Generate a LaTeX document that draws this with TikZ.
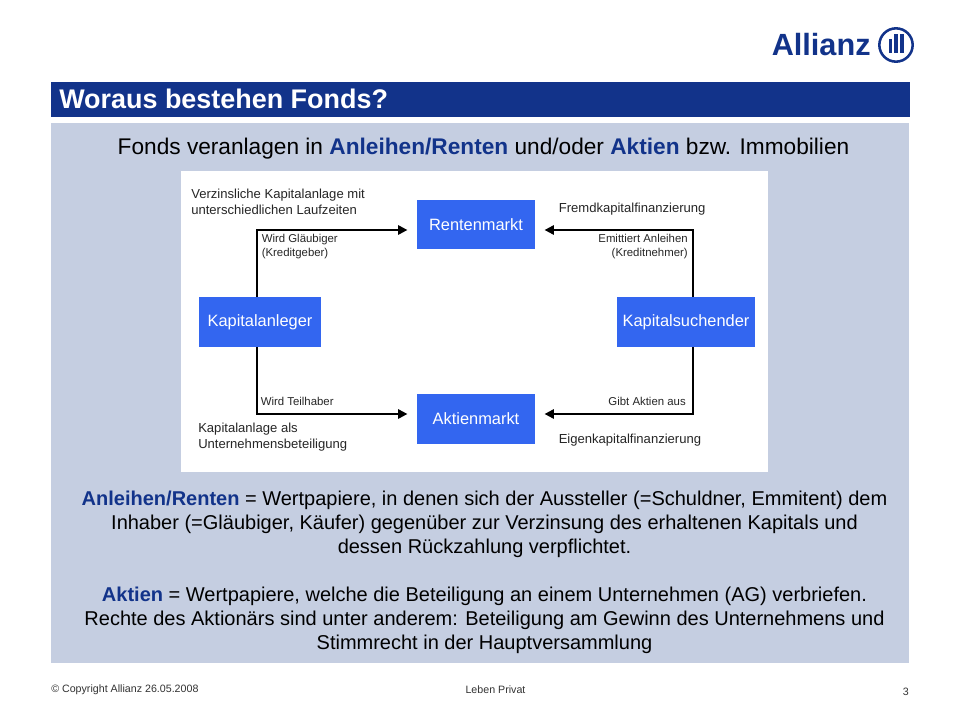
\documentclass[tikz,border=0pt]{standalone}
\usepackage{fontspec}
\setmainfont{Liberation Sans}
\usetikzlibrary{arrows.meta}
\definecolor{navy}{HTML}{12338A}
\definecolor{panel}{HTML}{C5CEE1}
\definecolor{boxblue}{HTML}{3366F0}
\newcommand{\fs}[2]{\fontsize{#1pt}{#2pt}\selectfont}
\tikzset{
 x=0.75pt,y=-0.75pt,
 market/.style={fill=boxblue,text=white,inner sep=0pt,font=\fs{12.3}{14}},
 small/.style={inner sep=0pt,align=left,text=black!85,font=\fs{9.8}{12}},
 tiny/.style={inner sep=0pt,align=left,text=black!85,font=\fs{8.55}{11}},
 conn/.style={draw=black,line width=1.5pt,-{Triangle[length=7pt,width=7pt]},shorten >=7pt},
 body/.style={inner sep=0pt,align=center,text=black,font=\fs{15}{18}},
 foot/.style={inner sep=0pt,text=black!80,font=\fs{8}{9}},
}
\begin{document}
\begin{tikzpicture}
\useasboundingbox (0,0) rectangle (960,720);
\fill[white] (0,0) rectangle (960,720);
% title and panels
\fill[navy] (51,82) rectangle (910,117);
\fill[panel] (51,123) rectangle (909,663);
\fill[white] (181,171) rectangle (768,472);
\node[anchor=west,inner sep=0pt,text=white,font=\fs{20.2}{24}\bfseries] (title) at (59,99) {Woraus bestehen Fonds?};
\node[inner sep=0pt,text=black,font=\fs{17}{20}] (head) at (483.5,148.5) {Fonds veranlagen in \textcolor{navy}{\bfseries Anleihen/Renten} und/oder \textcolor{navy}{\bfseries Aktien} bzw. Immobilien};
% logo
\node[anchor=west,inner sep=0pt,text=navy,font=\fs{23}{24}\bfseries] (logo) at (771.5,45) {Allianz};
\node[circle,draw=navy,line width=1.9pt,minimum size=25pt,inner sep=0pt] (ring) at (896,45) {};
\fill[navy] (889,39) rectangle (892,53);
\fill[navy] (894,34.5) rectangle (898,53);
\fill[navy] (900,34.5) rectangle (904,53);
% boxes
\node[market,minimum width=88.5pt,minimum height=37pt] (rm) at (476,224.5) {Rentenmarkt};
\node[market,minimum width=88.5pt,minimum height=37pt] (am) at (476,419) {Aktienmarkt};
\node[market,minimum width=91.5pt,minimum height=37pt] (ka) at (260,322) {Kapitalanleger};
\node[market,minimum width=103.5pt,minimum height=37pt] (ks) at (686,322) {Kapitalsuchender};
% connectors
\coordinate (cl) at (257,322);
\coordinate (cr) at (692.5,322);
\coordinate (yt) at (0,230);
\coordinate (yb) at (0,414);
\draw[conn] (ka.north -| cl) |- (rm.west |- yt);
\draw[conn] (ka.south -| cl) |- (am.west |- yb);
\draw[conn] (ks.north -| cr) |- (rm.east |- yt);
\draw[conn] (ks.south -| cr) |- (am.east |- yb);
% labels
\node[small,anchor=north west] (l1) at (191,189) {Verzinsliche Kapitalanlage mit\\unterschiedlichen Laufzeiten};
\node[small,anchor=north west] (l2) at (198,422.5) {Kapitalanlage als\\Unternehmensbeteiligung};
\node[small,anchor=west] (l3) at (558.5,209.5) {Fremdkapitalfinanzierung};
\node[small,anchor=west] (l4) at (558.5,440.5) {Eigenkapitalfinanzierung};
\node[tiny,anchor=north west] (t1) at (261.5,233.5) {Wird Gläubiger\\(Kreditgeber)};
\node[tiny,anchor=west] (t2) at (260.5,401) {Wird Teilhaber};
\node[tiny,anchor=north east,align=right] (t3) at (688,233.5) {Emittiert Anleihen\\(Kreditnehmer)};
\node[tiny,anchor=east] (t4) at (686,401) {Gibt Aktien aus};
% body
\node[body] (b1) at (484.5,524) {\textcolor{navy}{\bfseries Anleihen/Renten} = Wertpapiere, in denen sich der Aussteller (=Schuldner, Emmitent) dem\\Inhaber (=Gläubiger, Käufer) gegenüber zur Verzinsung des erhaltenen Kapitals und\\dessen Rückzahlung verpflichtet.};
\node[body] (b2) at (484.5,620) {\textcolor{navy}{\bfseries Aktien} = Wertpapiere, welche die Beteiligung an einem Unternehmen (AG) verbriefen.\\Rechte des Aktionärs sind unter anderem: Beteiligung am Gewinn des Unternehmens und\\Stimmrecht in der Hauptversammlung};
% footer
\node[foot,anchor=west] (f1) at (51,689.5) {© Copyright Allianz 26.05.2008};
\node[foot] (f2) at (495.5,689.5) {Leben Privat};
\node[foot,anchor=east] (f3) at (909,692) {3};
\end{tikzpicture}
\end{document}
